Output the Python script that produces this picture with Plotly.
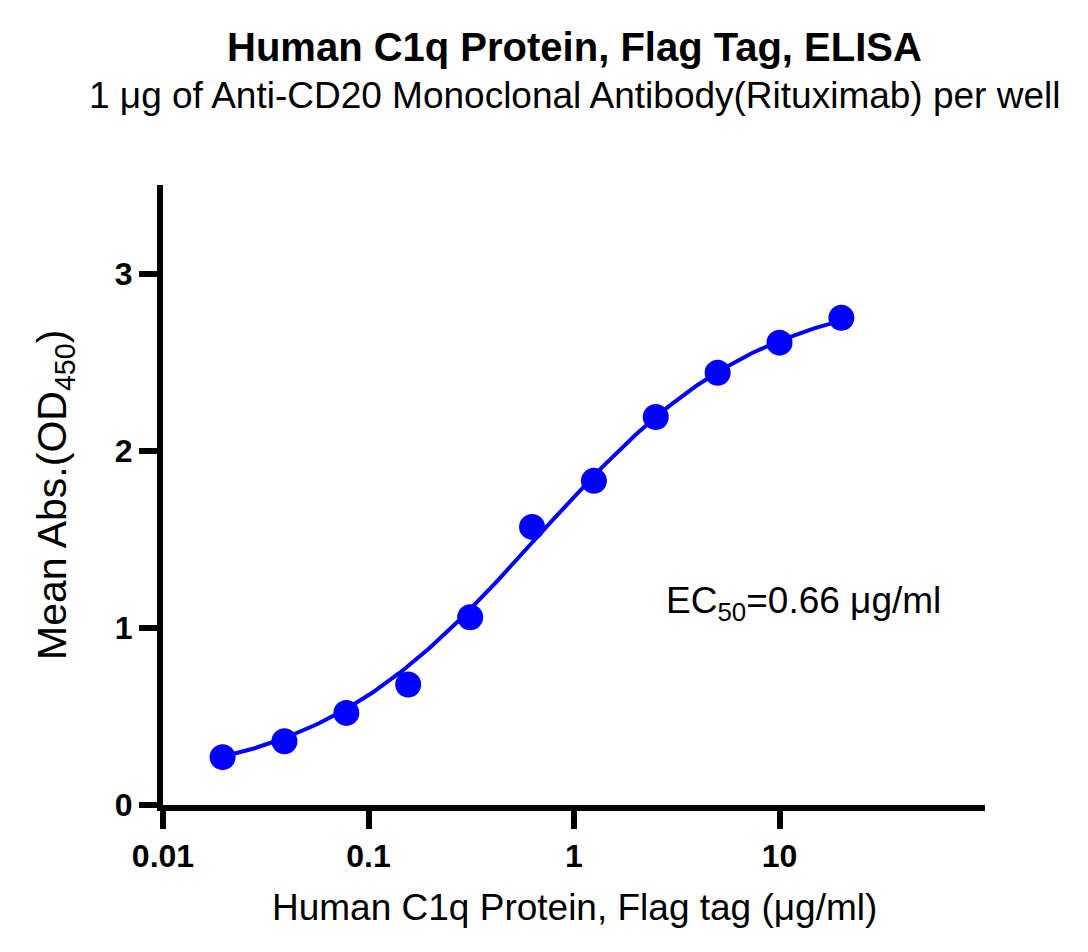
import numpy as np
import plotly.graph_objects as go

# concentrations (ug/ml) and mean OD450
conc = [0.0195, 0.039, 0.078, 0.156, 0.3125, 0.625, 1.25, 2.5, 5, 10, 20]
od450 = [0.27, 0.36, 0.52, 0.68, 1.06, 1.57, 1.83, 2.19, 2.44, 2.61, 2.75]

# 4PL fit parameters (EC50 as printed on the chart)
fit_bottom = 0.115
fit_top = 2.905
fit_ec50 = 0.66
fit_hill = 0.80

x_ticks = [0.01, 0.1, 1, 10]
x_ticktext = ['0.01', '0.1', '1', '10']
y_ticks = [0, 1, 2, 3]

FONT = 'Liberation Sans, Arial, sans-serif'
BLUE = '#0000FF'

x_fit = np.logspace(np.log10(conc[0]), np.log10(conc[-1]), 200)
y_fit = fit_bottom + (fit_top - fit_bottom) / (1 + (fit_ec50 / x_fit) ** fit_hill)

fig = go.Figure()
fig.add_trace(go.Scatter(x=x_fit, y=y_fit, mode='lines',
                         line=dict(color=BLUE, width=4),
                         showlegend=False, hoverinfo='skip'))
fig.add_trace(go.Scatter(x=conc, y=od450, mode='markers',
                         marker=dict(color=BLUE, size=26),
                         showlegend=False))

fig.update_xaxes(type='log', range=[-2, 2],
                 tickvals=x_ticks, ticktext=x_ticktext,
                 showline=True, linewidth=6, linecolor='black',
                 ticks='outside', ticklen=18, tickwidth=6, tickcolor='black',
                 tickfont=dict(family=FONT, size=32, color='black', weight='bold'),
                 showgrid=False, zeroline=False)
fig.update_yaxes(range=[0, 3.5], tickvals=y_ticks,
                 showline=True, linewidth=6, linecolor='black',
                 ticks='outside', ticklen=18, tickwidth=6, tickcolor='black',
                 tickfont=dict(family=FONT, size=32, color='black', weight='bold'),
                 showgrid=False, zeroline=False)

# titles and labels (paper coords relative to the plot area)
fig.add_annotation(x=0.5, y=1.2226, xref='paper', yref='paper',
                   text='<b>Human C1q Protein, Flag Tag, ELISA</b>',
                   showarrow=False, xanchor='center', yanchor='middle',
                   font=dict(family=FONT, size=40, color='black'))
fig.add_annotation(x=0.5, y=1.145, xref='paper', yref='paper',
                   text='1 μg of Anti-CD20 Monoclonal Antibody(Rituximab) per well',
                   showarrow=False, xanchor='center', yanchor='middle',
                   font=dict(family=FONT, size=37, color='black'))
fig.add_annotation(x=0.5, y=-0.166, xref='paper', yref='paper',
                   text='Human C1q Protein, Flag tag (μg/ml)',
                   showarrow=False, xanchor='center', yanchor='middle',
                   font=dict(family=FONT, size=37, color='black'))
fig.add_annotation(x=-0.1314, y=0.5, xref='paper', yref='paper',
                   text='Mean Abs.(OD<sub>450</sub>)', textangle=-90,
                   showarrow=False, xanchor='center', yanchor='middle',
                   font=dict(family=FONT, size=41, color='black'))
fig.add_annotation(x=0.7786, y=0.326, xref='paper', yref='paper',
                   text='EC<sub>50</sub>=0.66 μg/ml',
                   showarrow=False, xanchor='center', yanchor='middle',
                   font=dict(family=FONT, size=37, color='black'))

# page body has an 8px margin, so the figure is a bit smaller than the window
fig.update_layout(width=1080, height=944,
                  margin=dict(l=155, r=103, t=177, b=147),
                  plot_bgcolor='white', paper_bgcolor='white')

fig.write_html('out.html')
